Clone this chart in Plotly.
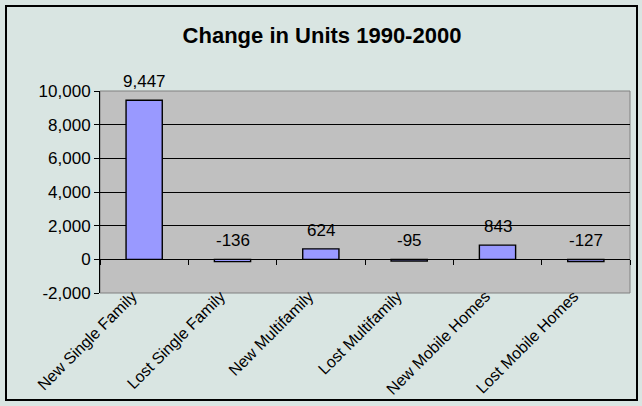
import plotly.graph_objects as go

categories = ["New Single Family", "Lost Single Family", "New Multifamily",
              "Lost Multifamily", "New Mobile Homes", "Lost Mobile Homes"]
values = [9447, -136, 624, -95, 843, -127]
labels = ["9,447", "-136", "624", "-95", "843", "-127"]
ytickvals = [-2000, 0, 2000, 4000, 6000, 8000, 10000]
yticktext = ["-2,000", "0", "2,000", "4,000", "6,000", "8,000", "10,000"]

BG = "#D9E5E2"
FONT = "Liberation Sans, Arial, sans-serif"

fig = go.Figure()
fig.add_trace(go.Bar(
    x=categories, y=values,
    marker=dict(color="#9999FF", line=dict(color="#000000", width=1.4)),
    width=0.41, showlegend=False, hoverinfo="x+y",
))
# invisible trace for the category-boundary ticks on the zero line
fig.add_trace(go.Scatter(x=categories, y=[0]*len(categories), xaxis="x2", yaxis="y",
                         mode="markers", marker=dict(opacity=0), showlegend=False,
                         hoverinfo="skip"))

for c, v, t in zip(categories, values, labels):
    fig.add_annotation(x=c, y=max(v, 0), text=t, showarrow=False,
                       yanchor="bottom", yshift=7,
                       font=dict(family=FONT, size=17, color="#000000"))

plot_h = 406 - 91 - 113
zero_pos = 2000 / 12000

fig.update_layout(
    width=642, height=406,
    margin=dict(l=100, r=12, t=91, b=113, autoexpand=False),
    paper_bgcolor=BG, plot_bgcolor="#C0C0C0",
    title=dict(text="<b>Change in Units 1990-2000</b>", x=322 / 642, xref="container",
               xanchor="center", y=1 - 35 / 406, yanchor="middle",
               font=dict(family=FONT, size=22, color="#000000")),
    font=dict(family=FONT, size=17, color="#000000"),
    xaxis=dict(showline=False, showgrid=False, ticks="", tickangle=-45,
               automargin=False, ticklabelstandoff=-10, ticklabelshift=-12,
               tickfont=dict(family=FONT, size=16, color="#000000"),
               categoryorder="array", categoryarray=categories),
    xaxis2=dict(overlaying="x", anchor="free", position=zero_pos,
                matches="x", showline=False, showgrid=False, automargin=False,
                ticks="outside", ticklen=5, tickcolor="#000000", tickwidth=1,
                tickson="boundaries", showticklabels=False,
                categoryorder="array", categoryarray=categories),
    yaxis=dict(range=[-2000, 10000], tickvals=ytickvals, ticktext=yticktext,
               automargin=False,
               showgrid=True, gridcolor="#000000", gridwidth=1,
               zeroline=True, zerolinecolor="#000000", zerolinewidth=1,
               showline=True, linecolor="#000000", linewidth=1,
               ticks="outside", ticklen=5, tickcolor="#000000",
               tickfont=dict(family=FONT, size=17, color="#000000")),
    bargap=0.59,
)

# plot area border
fig.add_shape(type="rect", xref="x domain", yref="y domain", x0=0, x1=1, y0=0, y1=1,
              line=dict(color="#808080", width=1), layer="below")
# outer chart border
fig.add_shape(type="rect", xref="paper", yref="paper",
              x0=-94 / 530, x1=1 + 7 / 530, y0=-(113 - 6) / plot_h, y1=1 + (91 - 6) / plot_h,
              line=dict(color="#000000", width=2))

fig.write_html("out.html", config={"displayModeBar": False},
               post_script="document.body.style.margin='0';document.body.style.background='%s';" % BG)
